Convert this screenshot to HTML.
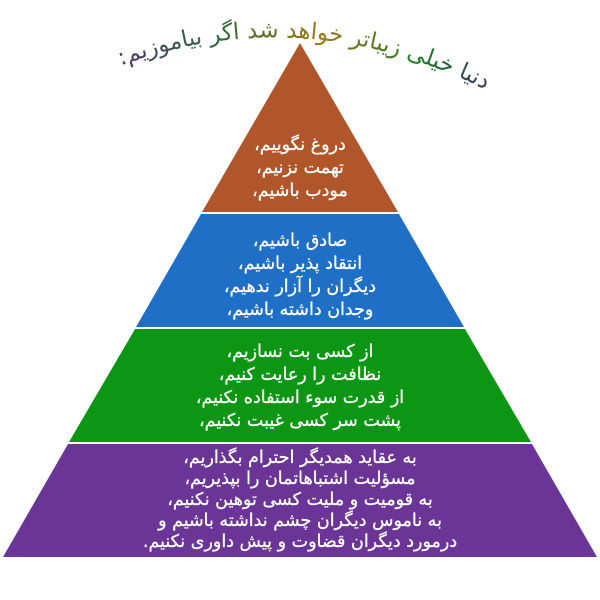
<!DOCTYPE html>
<html><head><meta charset="utf-8"><style>
html,body{margin:0;padding:0;background:#fff;width:600px;height:600px;overflow:hidden}
svg{display:block}
text{font-family:"DejaVu Sans","Liberation Sans",sans-serif}
</style></head><body>
<svg width="600" height="600" viewBox="0 0 600 600">
<defs>
<linearGradient id="g" x1="100" y1="0" x2="500" y2="0" gradientUnits="userSpaceOnUse">
<stop offset="0" stop-color="#5a2f7a"/>
<stop offset="0.3" stop-color="#2f6a3a"/>
<stop offset="0.55" stop-color="#a07818"/>
<stop offset="0.8" stop-color="#1e7a2a"/>
<stop offset="1" stop-color="#4a2a6a"/>
</linearGradient>
<path id="arc" d="M90,78 Q300,-15 515,105"/>
</defs>
<polygon points="300,43 398,212 202,212" fill="#b0562a"/>
<polygon points="201,214 399,214 464,327 136,327" fill="#1f6fc6"/>
<polygon points="135,329 465,329 531,442 69,442" fill="#0c9614"/>
<polygon points="68,444 532,444 597,557 3,557" fill="#6a3597"/>
<text font-size="23" fill="url(#g)" direction="rtl"><textPath href="#arc" startOffset="50%" text-anchor="middle">دنیا خیلی زیباتر خواهد شد اگر بیاموزیم:</textPath></text>
<g fill="#fff" font-size="17.5" text-anchor="middle" direction="rtl" stroke="#fff" stroke-width="0.3">
<text x="300" y="150">دروغ نگوییم،</text>
<text x="300" y="173">تهمت نزنیم،</text>
<text x="300" y="196">مودب باشیم،</text>
<text x="300" y="246">صادق باشیم،</text>
<text x="300" y="269">انتقاد پذیر باشیم،</text>
<text x="300" y="292">دیگران را آزار ندهیم،</text>
<text x="300" y="315">وجدان داشته باشیم،</text>
<text x="300" y="357">از کسی بت نسازیم،</text>
<text x="300" y="380">نظافت را رعایت کنیم،</text>
<text x="300" y="403">از قدرت سوء استفاده نکنیم،</text>
<text x="300" y="426">پشت سر کسی غیبت نکنیم،</text>
<text x="300" y="463">به عقاید همدیگر احترام بگذاریم،</text>
<text x="300" y="484">مسؤلیت اشتباهاتمان را بپذیریم،</text>
<text x="300" y="505">به قومیت و ملیت کسی توهین نکنیم،</text>
<text x="300" y="526">به ناموس دیگران چشم نداشته باشیم و</text>
<text x="300" y="547">درمورد دیگران قضاوت و پیش داوری نکنیم.</text>
</g>
</svg>
</body></html>
